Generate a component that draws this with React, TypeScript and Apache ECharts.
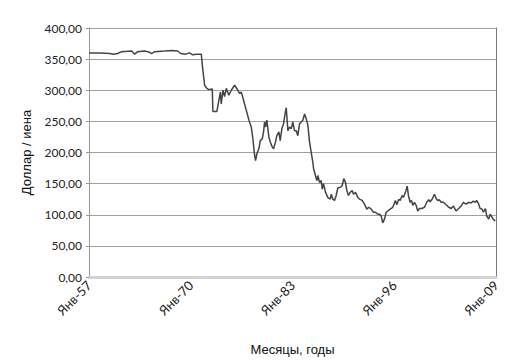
import React, { useEffect, useRef } from "react";
import * as echarts from "echarts";

// Decimal year and USD/JPY value
const years: number[] = [
  1957.0, 1958.37, 1959.64, 1960.15, 1960.66, 1961.17, 1962.45, 1962.83, 1963.22, 1964.11,
  1964.75, 1965.0, 1965.39, 1966.66, 1967.56, 1968.32, 1968.71, 1969.35, 1969.86, 1970.24,
  1970.75, 1971.35, 1971.48, 1971.77, 1971.99, 1972.28, 1972.75, 1972.83, 1973.34, 1973.6,
  1973.78, 1973.9, 1974.11, 1974.32, 1974.54, 1974.87, 1975.18, 1975.6, 1976.02, 1976.24,
  1976.46, 1976.75, 1977.09, 1977.43, 1977.73, 1977.94, 1978.15, 1978.28, 1978.45, 1978.7,
  1978.88, 1979.14, 1979.3, 1979.43, 1979.56, 1979.72, 1979.98, 1980.16, 1980.41, 1980.58,
  1980.83, 1981.0, 1981.26, 1981.43, 1981.64, 1981.86, 1982.02, 1982.2, 1982.41, 1982.62,
  1982.84, 1983.04, 1983.26, 1983.48, 1983.68, 1983.9, 1984.12, 1984.32, 1984.54, 1984.76,
  1984.96, 1985.18, 1985.39, 1985.6, 1985.69, 1985.94, 1986.11, 1986.24, 1986.45, 1986.67,
  1986.8, 1986.96, 1987.22, 1987.51, 1987.82, 1987.95, 1988.15, 1988.37, 1988.58, 1988.79,
  1989.09, 1989.35, 1989.55, 1989.77, 1989.94, 1990.15, 1990.37, 1990.63, 1990.79, 1991.05,
  1991.34, 1991.56, 1991.9, 1992.2, 1992.49, 1992.75, 1993.05, 1993.35, 1993.6, 1993.9,
  1994.11, 1994.33, 1994.53, 1994.75, 1994.97, 1995.17, 1995.48, 1995.81, 1996.15, 1996.32,
  1996.58, 1996.76, 1997.01, 1997.18, 1997.43, 1997.65, 1997.81, 1998.03, 1998.2, 1998.36,
  1998.58, 1998.8, 1999.0, 1999.22, 1999.51, 1999.86, 2000.15, 2000.41, 2000.59, 2000.84,
  2001.13, 2001.35, 2001.56, 2001.77, 2001.99, 2002.28, 2002.63, 2002.96, 2003.27, 2003.56,
  2003.9, 2004.24, 2004.54, 2004.83, 2005.18, 2005.51, 2005.82, 2006.11, 2006.37, 2006.53,
  2006.79, 2006.97, 2007.22, 2007.39, 2007.65, 2007.81, 2008.07, 2008.25, 2008.5, 2008.67,
  2008.92,
];

const values: number[] = [
  360, 360, 359, 358, 359, 362, 363, 358, 362, 363,
  361, 359, 362, 363, 364, 363, 359, 358, 360, 357,
  358, 358, 340, 308, 304, 301, 302, 266, 266, 284,
  297, 278, 300, 290, 303, 292, 300, 308, 300, 295,
  297, 284, 268, 252, 241, 222, 196, 187, 198, 206,
  219, 222, 233, 249, 241, 252, 225, 217, 209, 206,
  217, 227, 233, 219, 238, 246, 260, 272, 235, 241,
  238, 249, 235, 235, 227, 246, 249, 252, 262, 254,
  244, 217, 200, 184, 174, 163, 155, 163, 152, 155,
  141, 150, 136, 128, 125, 133, 125, 123, 131, 143,
  144, 147, 158, 152, 139, 131, 136, 139, 133, 136,
  128, 125, 123, 117, 109, 112, 109, 104, 104, 101,
  101, 98, 87, 93, 104, 106, 109, 112, 123, 116,
  125, 123, 131, 128, 136, 146, 131, 120, 123, 115,
  120, 115, 106, 110, 110, 112, 120, 124, 121, 125,
  133, 126, 123, 124, 120, 120, 116, 112, 110, 114,
  106, 110, 114, 120, 117, 120, 119, 122, 120, 123,
  117, 110, 109, 104, 110, 98, 93, 101, 96, 92,
  90,
];

const xTickYears: number[] = [1957, 1970, 1983, 1996, 2009];
const yAxisName = "Доллар / иена";
const xAxisName = "Месяцы, годы";

export default function App() {
  const ref = useRef<HTMLDivElement>(null);
  useEffect(() => {
    if (!ref.current) return;
    const chart = echarts.init(ref.current, undefined, { renderer: "svg" });
    const data = years.map((y, i) => [y, values[i]]);
    chart.setOption({
      animation: false,
      backgroundColor: "#ffffff",
      grid: { left: 89, right: 31, top: 28, bottom: 83, containLabel: false },
      xAxis: {
        type: "value",
        min: xTickYears[0],
        max: xTickYears[xTickYears.length - 1],
        interval: 13,
        name: xAxisName,
        nameLocation: "middle",
        nameGap: 66,
        nameTextStyle: { fontFamily: "Liberation Sans", fontSize: 13, color: "#111" },
        axisLine: { show: true, lineStyle: { color: "#d4d4d4", width: 3 } },
        axisTick: { show: false },
        splitLine: { show: false },
        axisLabel: {
          rotate: 45,
          margin: 6,
          fontFamily: "Lato",
          fontSize: 13,
          color: "#222",
          formatter: (v: number) => "Янв-" + String(Math.round(v) % 100).padStart(2, "0"),
        },
      },
      yAxis: [
        {
          type: "value",
          min: 0,
          max: 400,
          interval: 50,
          name: yAxisName,
          nameLocation: "middle",
          nameGap: 56,
          nameTextStyle: { fontFamily: "Liberation Sans", fontSize: 13, color: "#111" },
          axisLine: { show: true, lineStyle: { color: "#999", width: 1 } },
          axisTick: { show: true, length: 3, lineStyle: { color: "#999" } },
          splitLine: { show: true, lineStyle: { color: "#a0a0a0", width: 1 } },
          axisLabel: {
            margin: 7,
            fontFamily: "Lato",
            fontSize: 12,
            color: "#222",
            formatter: (v: number) => v.toFixed(2).replace(".", ","),
          },
        },
        {
          type: "value",
          min: 0,
          max: 400,
          interval: 50,
          position: "right",
          axisLine: { show: true, lineStyle: { color: "#777", width: 1 } },
          axisTick: { show: false },
          axisLabel: { show: false },
          splitLine: { show: false },
        },
      ],
      series: [
        {
          type: "line",
          data,
          showSymbol: false,
          symbol: "none",
          lineStyle: { color: "#444", width: 1.5 },
          yAxisIndex: 0,
        },
      ],
    });
    return () => chart.dispose();
  }, []);
  return <div ref={ref} style={{ width: 527, height: 361, position: "absolute", left: 0, top: 0 }} />;
}
